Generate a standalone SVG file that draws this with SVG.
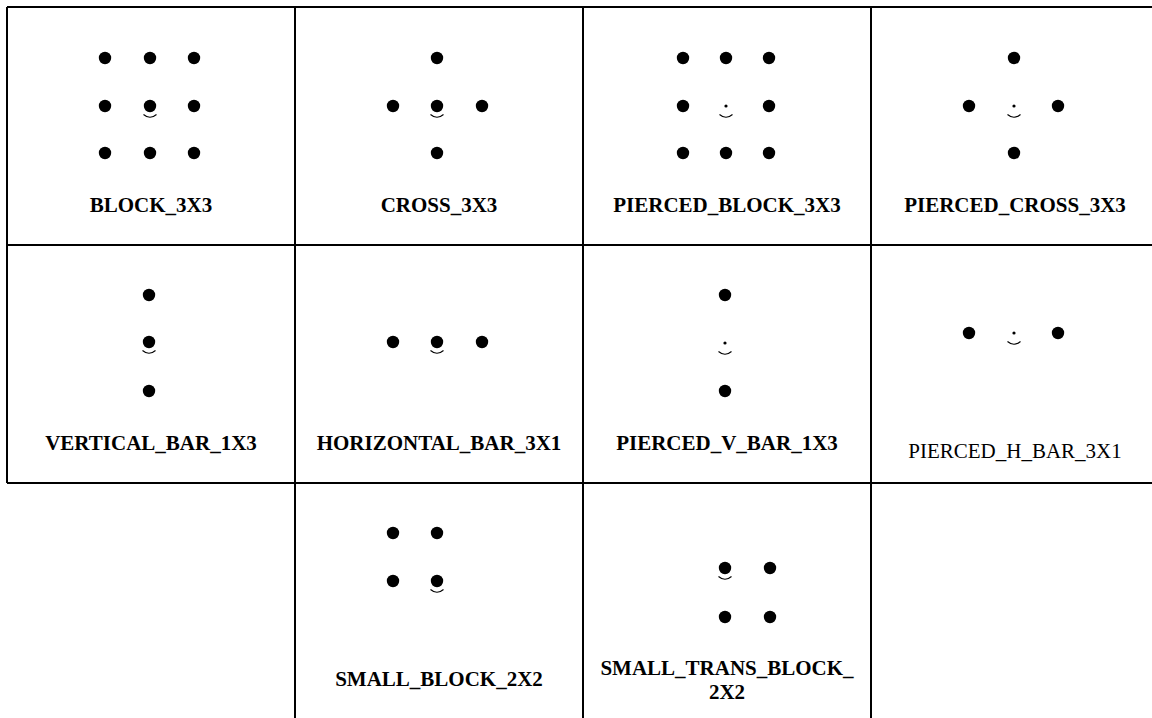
<svg xmlns="http://www.w3.org/2000/svg" width="1152" height="718" viewBox="0 0 1152 718">
<style>
.grid{stroke:#000;stroke-width:2;fill:none}
.d{fill:#000}
.s{fill:none;stroke:#000;stroke-width:1.1}
.lb{font-family:"Liberation Serif","Times New Roman",serif;font-weight:bold;font-size:21px;text-anchor:middle;fill:#000}
.lr{font-family:"Liberation Serif","Times New Roman",serif;font-size:21px;text-anchor:middle;fill:#000}
</style>
<defs>
<circle id="dot" r="6.2"/>
<path id="sm" d="M-6.5,8.5 Q0,14 6.5,8.5"/>
<circle id="pd" r="1.6"/>
</defs>
<rect width="1152" height="718" fill="#fff"/>
<g id="grid" class="grid">
<path d="M7,7 H1160 M7,245 H1160 M7,483 H1160 M7,7 V483 M295,7 V718 M583,7 V718 M871,7 V718"/>
</g>
<g id="block3x3">
<use href="#dot" x="105" y="58" class="d"/><use href="#dot" x="150" y="58" class="d"/><use href="#dot" x="194" y="58" class="d"/>
<use href="#dot" x="105" y="106" class="d"/><use href="#dot" x="150" y="106" class="d"/><use href="#dot" x="194" y="106" class="d"/>
<use href="#dot" x="105" y="153" class="d"/><use href="#dot" x="150" y="153" class="d"/><use href="#dot" x="194" y="153" class="d"/>
<use href="#sm" x="150" y="106" class="s"/>
<text x="151" y="212" class="lb">BLOCK_3X3</text>
</g>
<g id="cross3x3">
<use href="#dot" x="437" y="58" class="d"/>
<use href="#dot" x="393" y="106" class="d"/><use href="#dot" x="437" y="106" class="d"/><use href="#dot" x="482" y="106" class="d"/>
<use href="#dot" x="437" y="153" class="d"/>
<use href="#sm" x="437" y="106" class="s"/>
<text x="439" y="212" class="lb">CROSS_3X3</text>
</g>
<g id="piercedblock3x3">
<use href="#dot" x="683" y="58" class="d"/><use href="#dot" x="726" y="58" class="d"/><use href="#dot" x="769" y="58" class="d"/>
<use href="#dot" x="683" y="106" class="d"/><use href="#pd" x="726" y="106" class="d"/><use href="#dot" x="769" y="106" class="d"/>
<use href="#dot" x="683" y="153" class="d"/><use href="#dot" x="726" y="153" class="d"/><use href="#dot" x="769" y="153" class="d"/>
<use href="#sm" x="726" y="106" class="s"/>
<text x="727" y="212" class="lb">PIERCED_BLOCK_3X3</text>
</g>
<g id="piercedcross3x3">
<use href="#dot" x="1014" y="58" class="d"/>
<use href="#dot" x="969" y="106" class="d"/><use href="#pd" x="1014" y="106" class="d"/><use href="#dot" x="1058" y="106" class="d"/>
<use href="#dot" x="1014" y="153" class="d"/>
<use href="#sm" x="1014" y="106" class="s"/>
<text x="1015" y="212" class="lb">PIERCED_CROSS_3X3</text>
</g>
<g id="verticalbar1x3">
<use href="#dot" x="149" y="295" class="d"/>
<use href="#dot" x="149" y="342" class="d"/>
<use href="#dot" x="149" y="391" class="d"/>
<use href="#sm" x="149" y="342" class="s"/>
<text x="151" y="450" class="lb">VERTICAL_BAR_1X3</text>
</g>
<g id="horizontalbar3x1">
<use href="#dot" x="393" y="342" class="d"/><use href="#dot" x="437" y="342" class="d"/><use href="#dot" x="482" y="342" class="d"/>
<use href="#sm" x="437" y="342" class="s"/>
<text x="439" y="450" class="lb">HORIZONTAL_BAR_3X1</text>
</g>
<g id="piercedvbar1x3">
<use href="#dot" x="725" y="295" class="d"/>
<use href="#pd" x="725" y="343" class="d"/>
<use href="#dot" x="725" y="391" class="d"/>
<use href="#sm" x="725" y="343" class="s"/>
<text x="727" y="450" class="lb">PIERCED_V_BAR_1X3</text>
</g>
<g id="piercedhbar3x1">
<use href="#dot" x="969" y="333" class="d"/><use href="#pd" x="1014" y="333" class="d"/><use href="#dot" x="1058" y="333" class="d"/>
<use href="#sm" x="1014" y="333" class="s"/>
<text x="1015" y="458" class="lr">PIERCED_H_BAR_3X1</text>
</g>
<g id="smallblock2x2">
<use href="#dot" x="393" y="533" class="d"/><use href="#dot" x="437" y="533" class="d"/>
<use href="#dot" x="393" y="581" class="d"/><use href="#dot" x="437" y="581" class="d"/>
<use href="#sm" x="437" y="581" class="s"/>
<text x="439" y="686" class="lb">SMALL_BLOCK_2X2</text>
</g>
<g id="smalltransblock2x2">
<use href="#dot" x="725" y="568" class="d"/><use href="#dot" x="770" y="568" class="d"/>
<use href="#dot" x="725" y="617" class="d"/><use href="#dot" x="770" y="617" class="d"/>
<use href="#sm" x="725" y="568" class="s"/>
<text x="727" y="675" class="lb">SMALL_TRANS_BLOCK_</text>
<text x="727" y="699" class="lb">2X2</text>
</g>
</svg>
